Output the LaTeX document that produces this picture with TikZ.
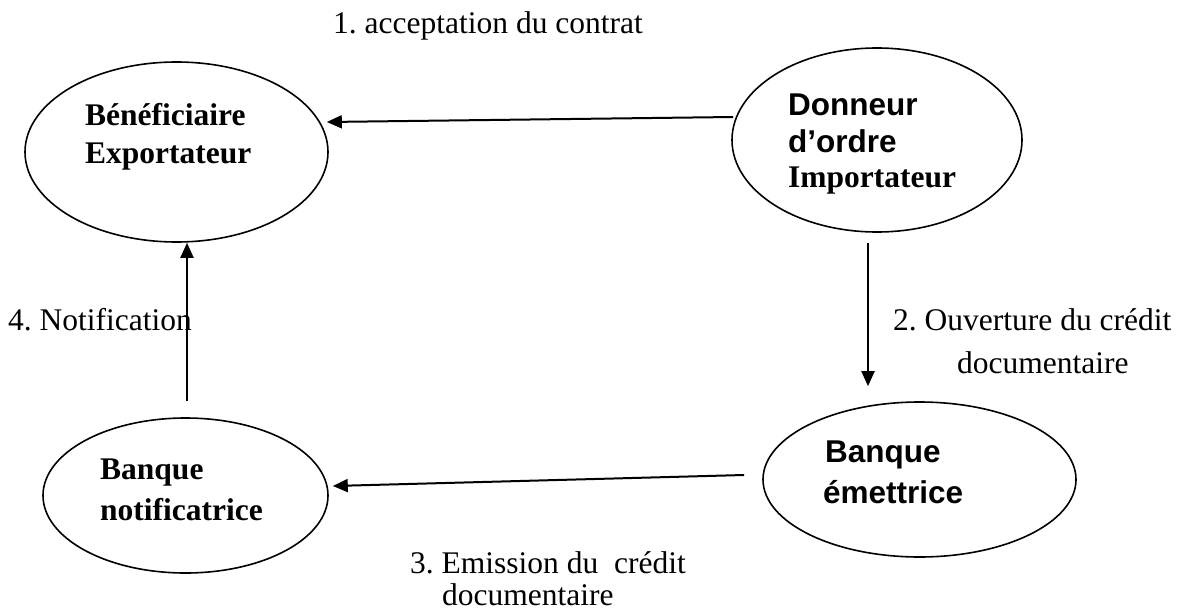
\documentclass[tikz,border=0pt]{standalone}
\usepackage{fontspec}
\setmainfont{Liberation Serif}
\newfontfamily\arialfont{Liberation Sans}
\usetikzlibrary{shapes.geometric,arrows.meta}
\frenchspacing
\begin{document}
\begin{tikzpicture}[x=1pt,y=-1pt,
  party/.style={ellipse,draw,line width=1.6pt,inner sep=0pt},
  flow/.style={line width=2pt,-{Triangle[length=15pt,width=13pt]}},
  txt/.style={anchor=base west,inner sep=0pt,font=\fontsize{31.5}{38}\selectfont},
  tbold/.style={txt,font=\fontsize{31.5}{38}\selectfont\bfseries},
  sbold/.style={txt,font=\fontsize{31.5}{38}\selectfont\arialfont\bfseries}]
\fill[white] (0,0) rectangle (1185,613);
\useasboundingbox (0,0) rectangle (1185,613);

% the four parties
\node[party,minimum width=303pt,minimum height=180pt] (ben) at (176.5,152) {};
\node[party,minimum width=290pt,minimum height=184pt] (don) at (877,140) {};
\node[party,minimum width=313pt,minimum height=155pt] (bem) at (919.5,479.5) {};
\node[party,minimum width=285pt,minimum height=155pt] (bno) at (185.5,495.5) {};

% names inside the ellipses
\node[tbold] (ben1) at (85,125) {Bénéficiaire};
\node[tbold] (ben2) at (85,163) {Exportateur};
\node[sbold] (don1) at (788,115) {Donneur};
\node[sbold] (don2) at (788,152) {d’ordre};
\node[tbold] (don3) at (788,187) {Importateur};
\node[sbold] (bem1) at (825,462) {Banque};
\node[sbold] (bem2) at (823,503) {émettrice};
\node[tbold] (bno1) at (100,479) {Banque};
\node[tbold] (bno2) at (100,520) {notificatrice};

% step labels
\node[txt] (l1) at (333,33) {1. acceptation du contrat};
\node[txt] (l2a) at (893,330) {2. Ouverture du crédit};
\node[txt] (l2b) at (957,373) {documentaire};
\node[txt] (l3a) at (410,573) {3. Emission du\ \ crédit};
\node[txt] (l3b) at (442,605) {documentaire};
\node[txt] (l4) at (8,330) {4. Notification};

% flows between the parties
\draw[flow] ([xshift=2pt,yshift=23pt]don.west) -- ([xshift=-2pt,yshift=30pt]ben.east);
\draw[flow] ([xshift=-9pt,yshift=-10pt]don.south) -- ([xshift=-51.5pt,yshift=15pt]bem.north);
\draw[flow] ([xshift=-18pt,yshift=4.5pt]bem.west) -- ([xshift=4pt,yshift=9.5pt]bno.east);
\draw[flow] ([xshift=1.5pt,yshift=16pt]bno.north) -- ([xshift=10.5pt]ben.south);
\end{tikzpicture}
\end{document}
